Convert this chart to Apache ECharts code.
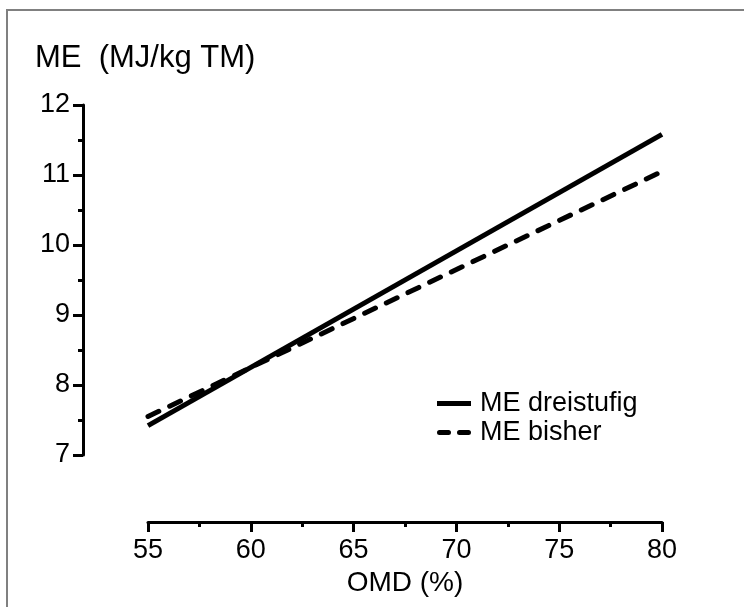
<!DOCTYPE html>
<html><head><meta charset="utf-8">
<script src="https://cdn.jsdelivr.net/npm/echarts@6/dist/echarts.min.js"></script>
<style>html,body{margin:0;padding:0;background:#fff}#c{width:744px;height:607px}</style>
</head><body><div id="c"></div>
<script>
const omd = [55, 80];
const meDreistufig = [7.42, 11.58];
const meBisher = [7.55, 11.05];
const seriesNames = ['ME dreistufig', 'ME bisher'];
const yTitle = 'ME  (MJ/kg TM)';
const xTitle = 'OMD (%)';
const xTicks = {min: 55, max: 80, interval: 5};
const yTicks = {min: 7, max: 12, interval: 1};

const font = 'Liberation Sans, Arial, sans-serif';
const chart = echarts.init(document.getElementById('c'), null, {renderer: 'canvas'});
const toPairs = (xs, ys) => xs.map((x, i) => [x, ys[i]]);
chart.setOption({
  animation: false,
  backgroundColor: '#fff',
  grid: {left: 148, right: 82, top: 105, bottom: 152, containLabel: false, outerBoundsMode: 'none'},
  xAxis: {
    type: 'value', min: xTicks.min, max: xTicks.max, interval: xTicks.interval,
    offset: 67,
    name: xTitle, nameLocation: 'middle', nameGap: 44,
    nameTextStyle: {fontFamily: font, fontSize: 28, color: '#000', verticalAlign: 'top'},
    axisLine: {show: true, lineStyle: {color: '#000', width: 3}},
    axisTick: {show: true, inside: false, length: 10, lineStyle: {color: '#000', width: 3}},
    minorTick: {show: true, splitNumber: 2, length: 5, lineStyle: {color: '#000', width: 3}},
    axisLabel: {fontFamily: font, fontSize: 27, color: '#000', margin: 15},
    splitLine: {show: false}
  },
  yAxis: {
    type: 'value', min: yTicks.min, max: yTicks.max, interval: yTicks.interval,
    offset: 65,
    axisLine: {show: true, lineStyle: {color: '#000', width: 3}},
    axisTick: {show: true, inside: false, length: 10, lineStyle: {color: '#000', width: 3}},
    minorTick: {show: true, splitNumber: 2, length: 5, lineStyle: {color: '#000', width: 3}},
    axisLabel: {fontFamily: font, fontSize: 27, color: '#000', margin: 13},
    splitLine: {show: false}
  },
  legend: {
    orient: 'vertical', left: 432, top: 385, itemGap: 2,
    itemWidth: 34, itemHeight: 5,
    textStyle: {fontFamily: font, fontSize: 27, color: '#000', padding: [0, 0, 0, 4]},
    data: [
      {name: seriesNames[0], icon: 'rect'},
      {name: seriesNames[1], icon: 'path://M2.5 0H11.5A2.5 2.5 0 0 1 11.5 5H2.5A2.5 2.5 0 0 1 2.5 0Z M22.5 0H31.5A2.5 2.5 0 0 1 31.5 5H22.5A2.5 2.5 0 0 1 22.5 0Z'}
    ]
  },
  graphic: [
    {type: 'rect', shape: {x: 7, y: 10, width: 800, height: 700},
     style: {fill: 'none', stroke: '#808080', lineWidth: 2}, silent: true},
    {type: 'text', left: 35, top: 43,
     style: {text: yTitle, font: '31px ' + font, fill: '#000'}}
  ],
  series: [
    {name: seriesNames[0], type: 'line', data: toPairs(omd, meDreistufig), symbol: 'none',
     lineStyle: {color: '#000', width: 5}, itemStyle: {color: '#000'}},
    {name: seriesNames[1], type: 'line', data: toPairs(omd, meBisher), symbol: 'none',
     lineStyle: {color: '#000', width: 5, type: [12, 12], cap: 'round'}, itemStyle: {color: '#000'}}
  ]
});
</script></body></html>
